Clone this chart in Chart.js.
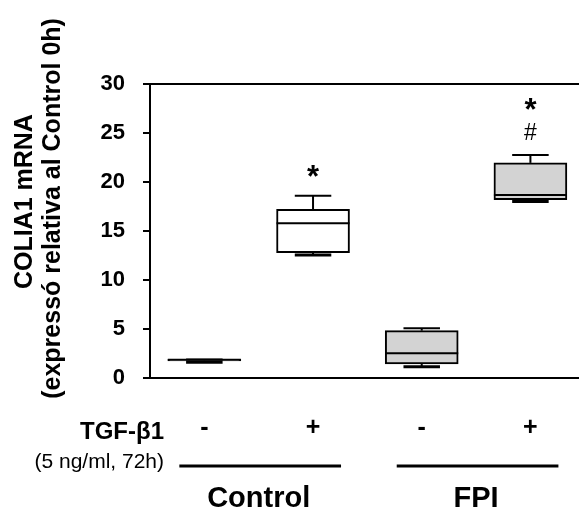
<!DOCTYPE html>
<html>
<head>
<meta charset="utf-8">
<script src="https://cdn.jsdelivr.net/npm/chart.js@4/dist/chart.umd.min.js"></script>
<style>
  html, body { margin: 0; padding: 0; background: #fff; }
  #wrap { width: 579px; height: 510px; }
</style>
</head>
<body>
<div id="wrap"><canvas id="c" width="579" height="510"></canvas></div>
<script>
// ---- data ----
const categories   = ['Control -', 'Control +', 'FPI -', 'FPI +'];
const treatment    = ['-', '+', '-', '+'];
const groups       = ['Control', 'FPI'];
const positions    = [1, 2, 3, 4];
const whiskerMin   = [1.6, 12.55, 1.15, 18.0];
const q1           = [1.75, 12.8, 1.43, 18.2];
const median       = [1.85, 15.8, 2.52, 18.67];
const q3           = [1.9, 17.2, 4.83, 21.95];
const whiskerMax   = [1.9, 18.6, 5.07, 22.75];
const sigMarks     = [[], ['*'], [], ['*', '#']];
const boxColors    = ['#ffffff', '#ffffff', '#d3d3d3', '#d3d3d3'];
const yTicks       = [0, 5, 10, 15, 20, 25, 30];
const yTitle       = ['COLIA1 mRNA', '(expressó relativa al Control 0h)'];
const rowLabel     = 'TGF-β1';
const rowSubLabel  = '(5 ng/ml, 72h)';

const FONT = '"Liberation Sans", Arial, sans-serif';

const extras = {
  id: 'boxExtras',
  afterDatasetsDraw(chart) {
    const { ctx, scales: { x, y } } = chart;
    const meta = chart.getDatasetMeta(0);
    ctx.save();
    ctx.strokeStyle = '#000';
    ctx.lineWidth = 2;
    ctx.lineCap = 'butt';
    positions.forEach((p, i) => {
      const cx = x.getPixelForValue(p);
      const w = meta.data[i].width;
      const half = w / 2;
      const capHalf = w / 4;
      // median
      const ym = y.getPixelForValue(median[i]);
      ctx.beginPath(); ctx.moveTo(cx - half, ym); ctx.lineTo(cx + half, ym); ctx.stroke();
      // upper whisker
      const yq3 = y.getPixelForValue(q3[i]);
      const yMax = y.getPixelForValue(whiskerMax[i]);
      ctx.beginPath(); ctx.moveTo(cx, yq3); ctx.lineTo(cx, yMax); ctx.stroke();
      ctx.beginPath(); ctx.moveTo(cx - capHalf, yMax); ctx.lineTo(cx + capHalf, yMax); ctx.stroke();
      // lower whisker
      const yq1 = y.getPixelForValue(q1[i]);
      const yMin = y.getPixelForValue(whiskerMin[i]);
      ctx.beginPath(); ctx.moveTo(cx, yq1); ctx.lineTo(cx, yMin); ctx.stroke();
      ctx.lineWidth = 3;
      ctx.beginPath(); ctx.moveTo(cx - capHalf, yMin); ctx.lineTo(cx + capHalf, yMin); ctx.stroke();
      ctx.lineWidth = 2;
      // significance marks
      ctx.fillStyle = '#000';
      ctx.textAlign = 'center';
      ctx.textBaseline = 'middle';
      const marks = sigMarks[i];
      marks.slice().reverse().forEach((m, k) => {
        const yy = yMax - 21 - k * 27;
        if (m === '*') { ctx.font = 'bold 31px ' + FONT; ctx.fillText(m, cx, yy + 4); }
        else { ctx.font = '23px ' + FONT; ctx.fillText(m, cx, yy); }
      });
    });
    ctx.restore();
  },
  afterDraw(chart) {
    const { ctx, scales: { x, y }, chartArea } = chart;
    ctx.save();
    // top frame line
    ctx.strokeStyle = '#000';
    ctx.lineWidth = 2;
    ctx.beginPath();
    ctx.moveTo(chartArea.left, chartArea.top);
    ctx.lineTo(chart.width, chartArea.top);
    ctx.stroke();

    ctx.fillStyle = '#000';
    // y axis title (two rotated lines)
    ctx.save();
    ctx.font = 'bold 25px ' + FONT;
    ctx.textAlign = 'center';
    ctx.textBaseline = 'middle';
    const titleCenters = [[25, y.getPixelForValue(18.0)], [53, y.getPixelForValue(17.3)]];
    yTitle.forEach((t, i) => {
      ctx.save();
      ctx.translate(titleCenters[i][0], titleCenters[i][1]);
      ctx.rotate(-Math.PI / 2);
      ctx.fillText(t, 0, 0);
      ctx.restore();
    });
    ctx.restore();

    // row labels
    ctx.textAlign = 'right';
    ctx.textBaseline = 'middle';
    ctx.font = 'bold 24px ' + FONT;
    ctx.fillText(rowLabel, 164, 432);
    ctx.font = '21px ' + FONT;
    ctx.fillText(rowSubLabel, 164, 462);
    // treatment signs
    ctx.textAlign = 'center';
    ctx.font = 'bold 25px ' + FONT;
    positions.forEach((p, i) => {
      ctx.fillText(treatment[i], x.getPixelForValue(p), 428);
    });
    // group lines and labels
    groups.forEach((g, gi) => {
      const a = x.getPixelForValue(positions[gi * 2]);
      const b = x.getPixelForValue(positions[gi * 2 + 1]);
      ctx.lineWidth = 3;
      ctx.beginPath();
      ctx.moveTo(a - 25, 466);
      ctx.lineTo(b + 28, 466);
      ctx.stroke();
      ctx.font = 'bold 29px ' + FONT;
      ctx.fillText(g, (a + b) / 2, 499);
    });
    ctx.restore();
  }
};

new Chart(document.getElementById('c'), {
  type: 'bar',
  data: {
    labels: categories,
    datasets: [{
      label: 'COLIA1',
      data: positions.map((p, i) => ({ x: p, y: [q1[i], q3[i]] })),
      backgroundColor: boxColors,
      borderColor: '#000',
      borderWidth: 2,
      borderSkipped: false,
      barThickness: 73
    }]
  },
  options: {
    responsive: false,
    animation: false,
    devicePixelRatio: 1,
    layout: { padding: { top: 84, bottom: 132, left: 0, right: 0 } },
    plugins: { legend: { display: false }, tooltip: { enabled: false } },
    scales: {
      x: {
        type: 'linear',
        offset: false,
        min: 0.5,
        max: 4.447,
        afterFit(scale) { scale.height = 0; },
        ticks: { display: false },
        grid: { display: false, offset: false },
        border: { display: true, color: '#000', width: 2 }
      },
      y: {
        min: 0,
        max: 30,
        afterFit(scale) { scale.width = 150; },
        afterBuildTicks(scale) { scale.ticks = yTicks.map(v => ({ value: v })); },
        ticks: {
          color: '#000',
          padding: 18,
          font: { family: FONT, size: 22, weight: 'bold' }
        },
        grid: { display: true, drawOnChartArea: false, drawTicks: true, tickLength: 7, color: '#000', lineWidth: 2 },
        border: { display: true, color: '#000', width: 2 },
        title: { display: false }
      }
    }
  },
  plugins: [extras]
});
</script>
</body>
</html>
